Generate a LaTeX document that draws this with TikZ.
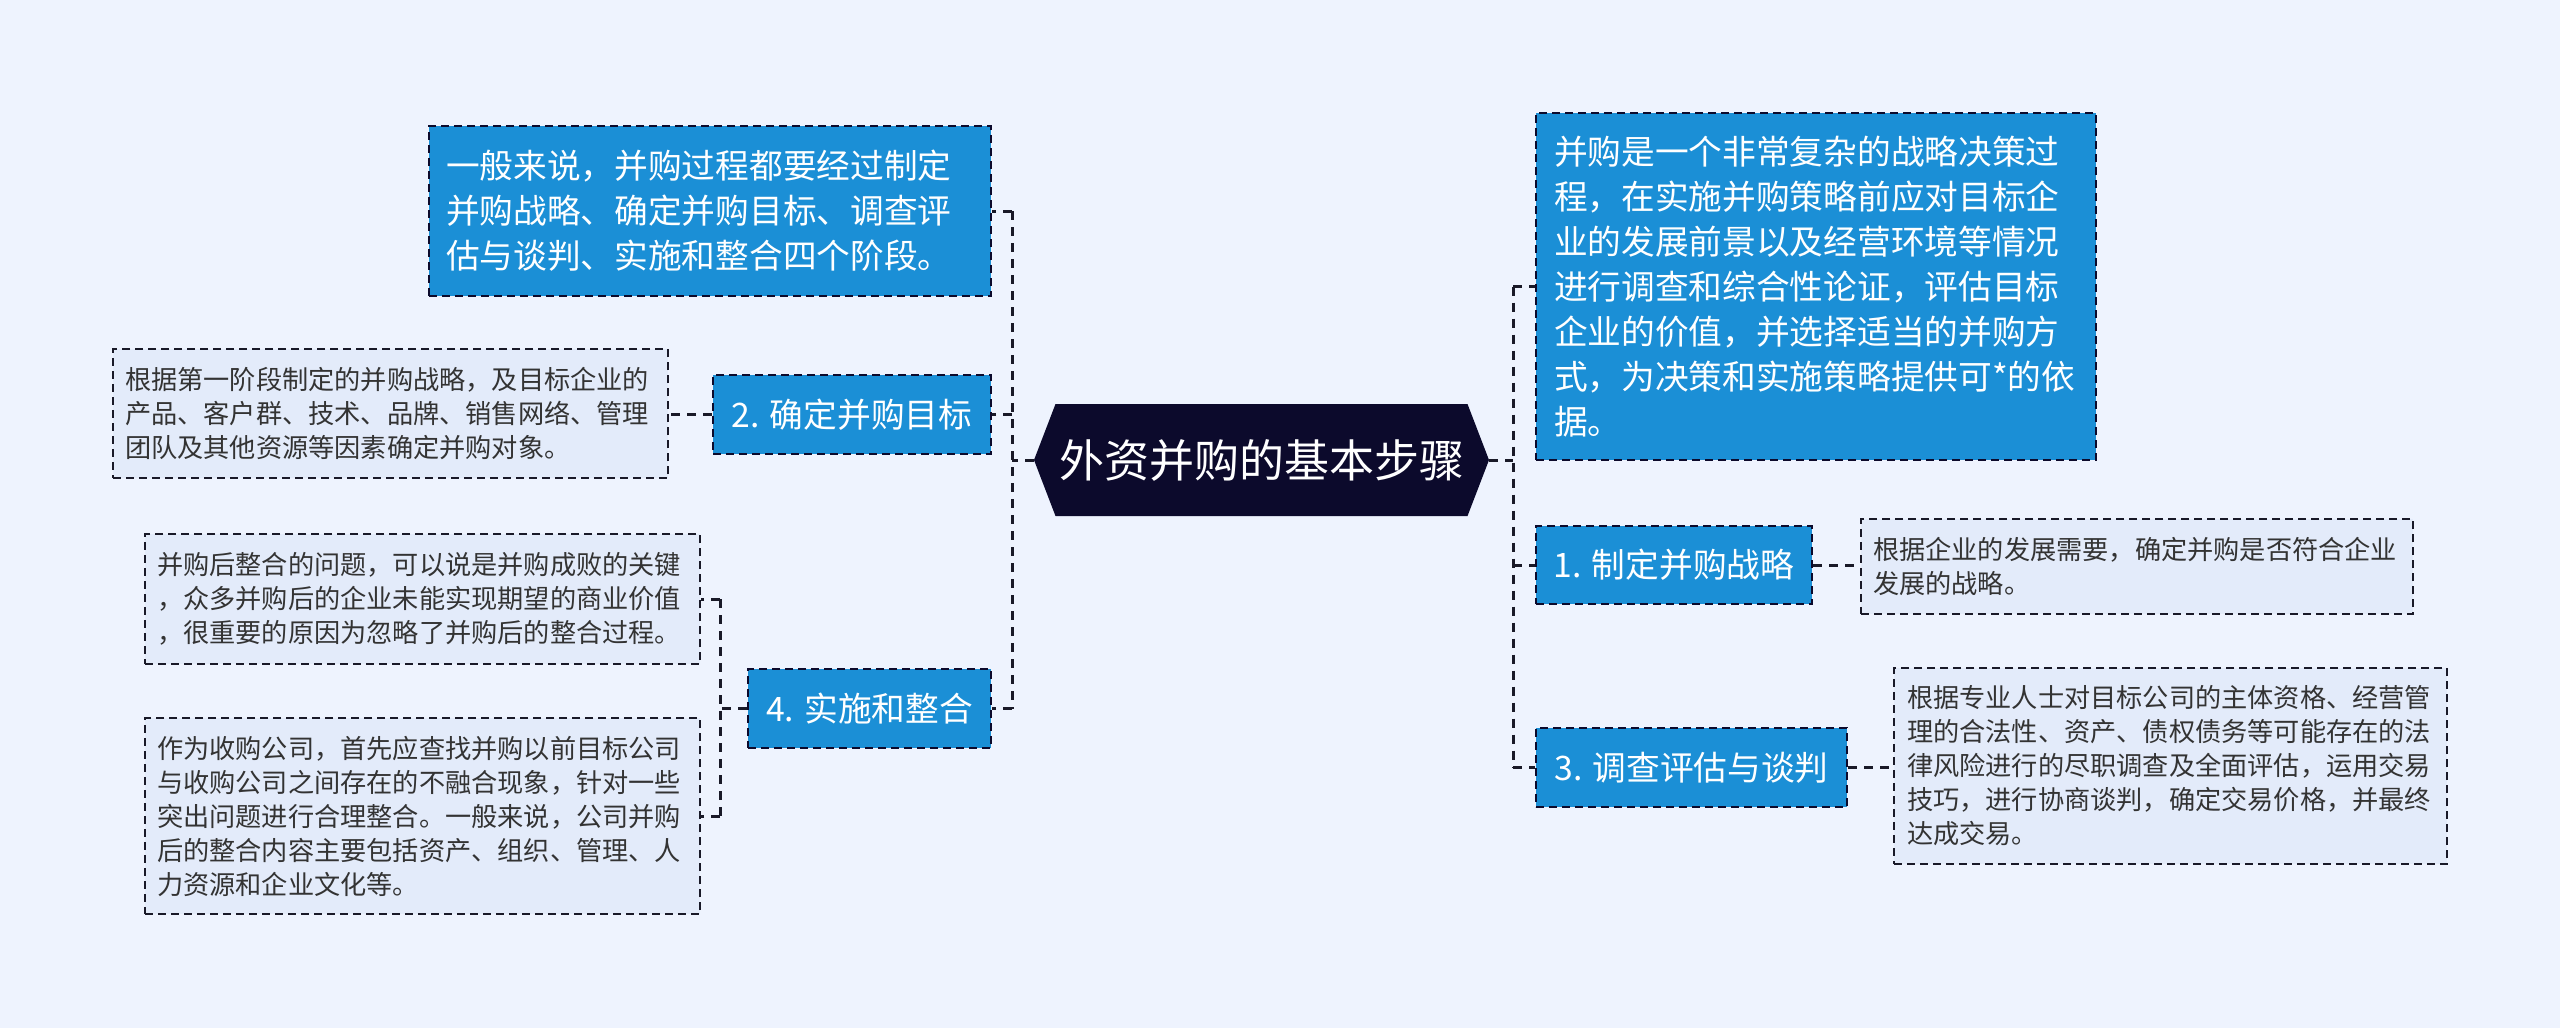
\documentclass[tikz,border=0pt]{standalone}
\usepackage{fontspec}
\newfontfamily\cjk{Noto Sans CJK SC}
\usetikzlibrary{shapes.symbols}
\definecolor{bg}{RGB}{238,243,254}
\definecolor{topicblue}{RGB}{27,143,214}
\definecolor{rootnavy}{RGB}{12,10,44}
\definecolor{notefill}{RGB}{227,235,250}
\definecolor{linedark}{RGB}{25,25,40}
\definecolor{notetext}{RGB}{51,51,51}

\begin{document}
\begin{tikzpicture}[x=1pt,y=-1pt,
  link/.style={draw=linedark,line width=3pt,dash pattern=on 9pt off 7pt},
  topic/.style={draw=rootnavy,line width=2.5pt,dash pattern=on 8pt off 5pt,fill=topicblue,text=white,
    font=\cjk\fontsize{33.7}{45}\selectfont,inner sep=0pt,align=left},
  note/.style={draw=linedark,line width=2.2pt,dash pattern=on 8pt off 5pt,fill=notefill,text=notetext,
    font=\cjk\fontsize{26.2}{34}\selectfont,inner ysep=0pt,align=left}]
\fill[bg] (0,0) rectangle (2560,1028);
\useasboundingbox (0,0) rectangle (2560,1028);

\node[shape=signal,signal to=west and east,signal pointer angle=138,fill=rootnavy,text=white,
  font=\cjk\fontsize{45}{50}\selectfont,minimum width=455pt,minimum height=112pt,inner sep=0pt]
  (root) at (1261.5,460) {外资并购的基本步骤};

\node[topic,text width=528pt,inner xsep=17pt,minimum height=170pt] (intro) at (710,211)
  {一般来说，并购过程都要经过制定\\并购战略、确定并购目标、调查评\\估与谈判、实施和整合四个阶段。};
\node[topic,minimum width=278pt,minimum height=79pt] (target) at (852,414.5) {2. 确定并购目标};
\node[note,text width=531pt,inner xsep=12pt,minimum height=129pt] (targetnote) at (390.5,413.5)
  {根据第一阶段制定的并购战略，及目标企业的\\产品、客户群、技术、品牌、销售网络、管理\\团队及其他资源等因素确定并购对象。};
\node[topic,minimum width=243pt,minimum height=79pt] (integrate) at (869.5,708.5) {4. 实施和整合};
\node[note,text width=531pt,inner xsep=12pt,minimum height=130pt] (integnoteA) at (422.5,599)
  {并购后整合的问题，可以说是并购成败的关键\\，众多并购后的企业未能实现期望的商业价值\\，很重要的原因为忽略了并购后的整合过程。};
\node[note,text width=531pt,inner xsep=12pt,minimum height=196pt] (integnoteB) at (422.5,816)
  {作为收购公司，首先应查找并购以前目标公司\\与收购公司之间存在的不融合现象，针对一些\\突出问题进行合理整合。一般来说，公司并购\\后的整合内容主要包括资产、组织、管理、人\\力资源和企业文化等。};

\node[topic,text width=524pt,inner xsep=18pt,minimum height=347pt] (overview) at (1816,286.5)
  {并购是一个非常复杂的战略决策过\\程，在实施并购策略前应对目标企\\业的发展前景以及经营环境等情况\\进行调查和综合性论证，评估目标\\企业的价值，并选择适当的并购方\\式，为决策和实施策略提供可*的依\\据。};
\node[topic,minimum width=276pt,minimum height=78pt] (strategy) at (1674,565) {1. 制定并购战略};
\node[note,text width=528pt,inner xsep=12pt,minimum height=95pt] (strategynote) at (2137,566.5)
  {根据企业的发展需要，确定并购是否符合企业\\发展的战略。};
\node[topic,minimum width=311pt,minimum height=79pt] (survey) at (1691.5,767.5) {3. 调查评估与谈判};
\node[note,text width=527pt,inner xsep=13pt,minimum height=196pt] (surveynote) at (2170.5,766)
  {根据专业人士对目标公司的主体资格、经营管\\理的合法性、资产、债权债务等可能存在的法\\律风险进行的尽职调查及全面评估，运用交易\\技巧，进行协商谈判，确定交易价格，并最终\\达成交易。};

\coordinate (lj) at (1012,460);
\coordinate (rj) at (1513,460);
\coordinate (ij) at (720,708.5);

\draw[link] (root.west) -- (lj);
\draw[link] (lj |- intro.east) -- (lj |- integrate.east);
\foreach \n in {intro,target,integrate}
  \draw[link] (lj |- \n.east) -- (\n.east);
\draw[link] (root.east) -- (rj);
\draw[link] (rj |- overview.west) -- (rj |- survey.west);
\foreach \n in {overview,strategy,survey}
  \draw[link] (rj |- \n.west) -- (\n.west);

\draw[link] (target.west) -- (target.west -| targetnote.east);
\draw[link] (integrate.west) -- (ij);
\draw[link] (ij |- integnoteA.east) -- (ij |- integnoteB.east);
\foreach \n in {integnoteA,integnoteB}
  \draw[link] (ij |- \n.east) -- (\n.east);
\draw[link] (strategy.east) -- (strategy.east -| strategynote.west);
\draw[link] (survey.east) -- (survey.east -| surveynote.west);
\end{tikzpicture}
\end{document}
